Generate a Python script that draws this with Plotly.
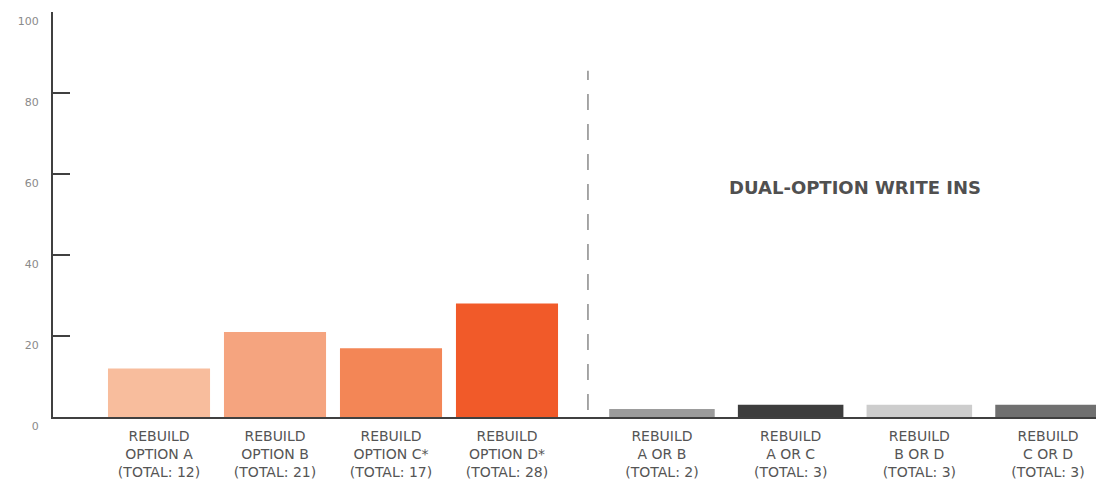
import plotly.graph_objects as go

# data
single_labels = [
    "REBUILD<br>OPTION A<br>(TOTAL: 12)",
    "REBUILD<br>OPTION B<br>(TOTAL: 21)",
    "REBUILD<br>OPTION C*<br>(TOTAL: 17)",
    "REBUILD<br>OPTION D*<br>(TOTAL: 28)",
]
single_totals = [12, 21, 17, 28]
single_colors = ["#F8BD9D", "#F5A47F", "#F38656", "#F15A29"]

dual_labels = [
    "REBUILD<br>A OR B<br>(TOTAL: 2)",
    "REBUILD<br>A OR C<br>(TOTAL: 3)",
    "REBUILD<br>B OR D<br>(TOTAL: 3)",
    "REBUILD<br>C OR D<br>(TOTAL: 3)",
]
dual_totals = [2, 3, 3, 3]
dual_colors = ["#9C9C9C", "#3D3D3D", "#CDCDCD", "#707070"]

y_ticks = [0, 20, 40, 60, 80, 100]

label_font = dict(family="DejaVu Sans", size=14, color="#555555")
axis_col = "#404040"

fig = go.Figure()
fig.add_trace(go.Bar(
    x=list(range(len(single_labels))), y=single_totals,
    marker=dict(color=single_colors, line=dict(width=0)),
    width=0.88, xaxis="x", yaxis="y", hoverinfo="y",
))
fig.add_trace(go.Bar(
    x=list(range(len(dual_labels))), y=dual_totals,
    marker=dict(color=dual_colors, line=dict(width=0)),
    width=0.82, xaxis="x2", yaxis="y", hoverinfo="y",
))

# divider between single and dual options
fig.add_shape(type="line", xref="x2 domain", yref="y", x0=0, x1=0, y0=1.7, y1=85.5,
              line=dict(color="#8a8a8a", width=1.5, dash="16px,14px"))

fig.add_annotation(x=1.5, y=56.6, xref="x2", yref="y", text="DUAL-OPTION WRITE INS",
                   showarrow=False,
                   font=dict(family="DejaVu Sans", size=18, color="#505050", weight="bold"))

split = 0.509
common_x = dict(
    tickmode="array", ticks="",
    showline=True, linecolor=axis_col, linewidth=2,
    showgrid=False, zeroline=False,
    tickfont=label_font, ticklabelstandoff=5,
    automargin=False, anchor="y",
)

fig.update_layout(
    width=1096, height=486,
    margin=dict(l=45, r=0, t=4, b=77),
    plot_bgcolor="white", paper_bgcolor="white",
    showlegend=False,
    xaxis=dict(domain=[0, split], range=[-0.914, 3.698],
               tickvals=list(range(len(single_labels))), ticktext=single_labels,
               **common_x),
    xaxis2=dict(domain=[split, 1], range=[-0.575, 3.435],
                tickvals=list(range(len(dual_labels))), ticktext=dual_labels,
                **common_x),
    yaxis=dict(
        range=[0, 100], tickvals=y_ticks,
        ticks="inside", ticklen=17, tickwidth=2, tickcolor=axis_col,
        showline=True, linecolor=axis_col, linewidth=2,
        showgrid=False, zeroline=False,
        tickfont=dict(family="DejaVu Sans", size=11, color="#8a8a8a"),
        ticklabelstandoff=10, ticklabelshift=9,
        automargin=False,
    ),
)

fig.write_html("out.html")
